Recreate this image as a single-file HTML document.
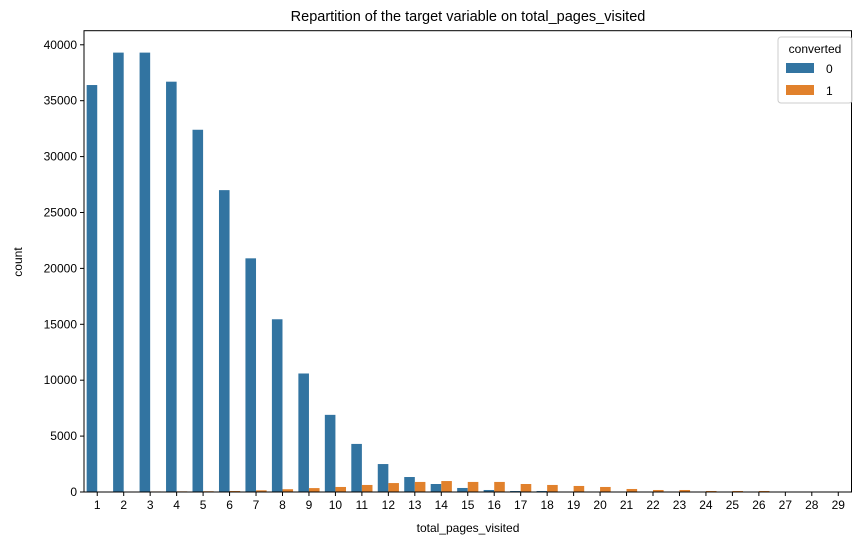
<!DOCTYPE html>
<html><head><meta charset="utf-8"><style>
html,body{margin:0;padding:0;background:#fff;}
svg{display:block;font-family:"Liberation Sans","DejaVu Sans",sans-serif;}
</style></head><body>
<svg id="chart" width="868" height="545">
<text x="468" y="21" font-size="14.5" text-anchor="middle">Repartition of the target variable on total_pages_visited</text>
<g id="bars"></g>
<g id="axes"></g>
<text x="468" y="532" font-size="12" text-anchor="middle">total_pages_visited</text>
<text x="22" y="262" font-size="12" text-anchor="middle" transform="rotate(-90 22 262)">count</text>
<g>
<rect x="778" y="37" width="74" height="66" rx="3" fill="#fff" fill-opacity="0.8" stroke="#ccc"/>
<text x="815" y="53" font-size="12" text-anchor="middle">converted</text>
<rect x="786" y="63" width="28" height="10" fill="#3274a1"/>
<text x="826" y="73" font-size="12">0</text>
<rect x="786" y="85" width="28" height="10" fill="#e1812c"/>
<text x="826" y="95" font-size="12">1</text>
</g>
</svg>
<script>
const categories = [1,2,3,4,5,6,7,8,9,10,11,12,13,14,15,16,17,18,19,20,21,22,23,24,25,26,27,28,29];
const notConverted = [36400,39300,39300,36700,32400,27000,20900,15450,10600,6900,4300,2500,1340,715,360,180,90,90,30,20,10,5,5,3,2,2,1,1,1];
const converted = [20,40,50,60,70,90,150,250,350,450,630,800,900,980,900,900,715,630,540,450,270,180,180,90,90,90,15,10,8];
const yTicks = [0,5000,10000,15000,20000,25000,30000,35000,40000];
const L=84, R=851.5, T=30.7, B=492, YMAX=41260;
const ns="http://www.w3.org/2000/svg";
const step=(R-L)/categories.length;
function xPos(i){return L+step*(i+0.5);}
function yPos(v){return B-(v/YMAX)*(B-T);}
const bars=document.getElementById('bars');
const axes=document.getElementById('axes');
function mk(tag,attrs,parent){const e=document.createElementNS(ns,tag);for(const k in attrs)e.setAttribute(k,attrs[k]);parent.appendChild(e);return e;}
const bw=step*0.4;
categories.forEach((c,i)=>{
  const cx=xPos(i);
  let r=mk('rect',{x:cx-bw,y:yPos(notConverted[i]),width:bw,height:B-yPos(notConverted[i]),fill:'#3274a1'},bars);
  
  
  r=mk('rect',{x:cx,y:yPos(converted[i]),width:bw,height:B-yPos(converted[i]),fill:'#e1812c'},bars);
  
  
  const t=mk('line',{x1:cx,x2:cx,y1:B,y2:B+4,stroke:'#000','stroke-width':1},axes);
  
  
  const lb=mk('text',{x:cx,y:B+17,'font-size':12,'text-anchor':'middle'},axes);
  lb.textContent=c;
  
  
});
yTicks.forEach(v=>{
  const y=yPos(v);
  const t=mk('line',{x1:L-4,x2:L,y1:y,y2:y,stroke:'#000','stroke-width':1},axes);
  
  
  const lb=mk('text',{x:L-7,y:y+4,'font-size':12,'text-anchor':'end'},axes);
  lb.textContent=v;
  
  
});
const fr=mk('rect',{x:L,y:T,width:R-L,height:B-T,fill:'none',stroke:'#000','stroke-width':1},axes);


</script>
</body></html>
